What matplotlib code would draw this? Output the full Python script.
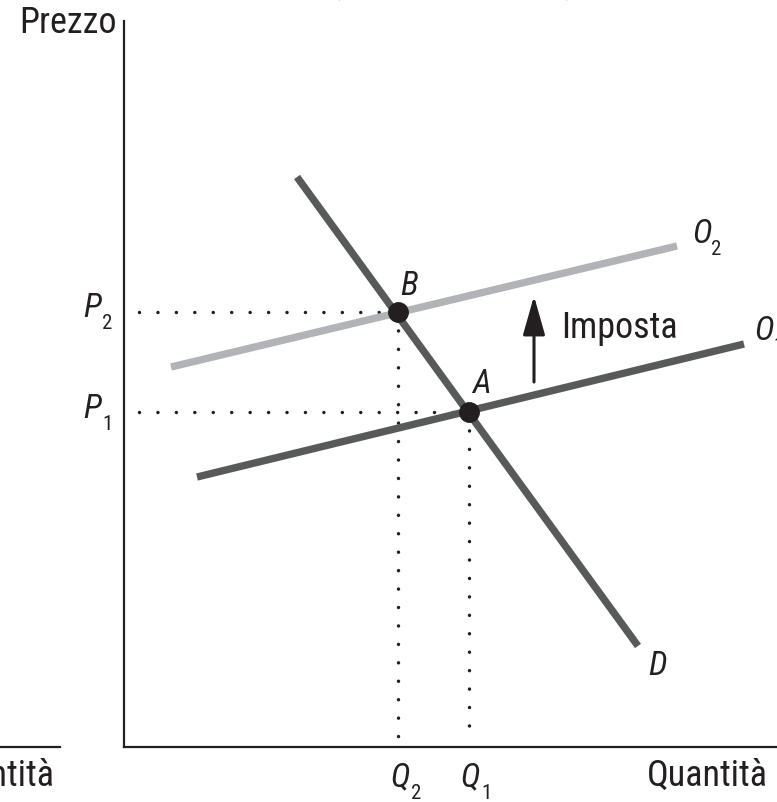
import os
import numpy as np
import matplotlib.pyplot as plt
import matplotlib.font_manager as fm
from matplotlib.lines import Line2D
from matplotlib.textpath import TextPath

# units: quantity / price measured from the axes corner
d_q = [17.3, 51.4]
d_p = [57.0, 10.1]
o1_q = [7.3, 62.0]
o1_p = [27.0, 40.3]
o2_q = [4.7, 55.3]
o2_p = [38.0, 50.1]

eq_names = ['A', 'B']
eq_q = [34.5, 27.4]
eq_p = [33.5, 43.5]

tax_q = 41.0
tax_p = [36.5, 45.1]

dark = '#58595b'
light = '#b1b3b6'
ink = '#231f20'


def narrow_font(italic):
    # the figure uses a condensed grotesque; take whatever narrow face is installed
    keys = ['LiberationSansNarrow', 'RobotoCondensed', 'OpenSansCondensed',
            'OpenSans_Condensed', 'DejaVuSansCondensed']
    for key in keys:
        for f in fm.fontManager.ttflist:
            base = os.path.basename(f.fname)
            if key not in base or 'Bold' in base or 'Light' in base:
                continue
            if ('Italic' in base or 'Oblique' in base) == italic:
                return fm.FontProperties(fname=f.fname)
    return fm.FontProperties(family='Liberation Sans',
                             style='italic' if italic else 'normal')


fp = narrow_font(False)
fpi = narrow_font(True)

# 'Imposta' is about 112 px wide in the reference
w = TextPath((0, 0), 'Imposta', size=26, prop=fp).get_extents().width * 100 / 72
word_size = 26 * min(1.0, 112 / w)

fig = plt.figure(figsize=(7.77, 8.03), dpi=100)
W, H = 777, 803
ax = fig.add_axes([124 / W, 55 / H, (W - 124) / W, 726 / H])
ax.set_xlim(0, 65.3)
ax.set_ylim(0, 72.6)
for s in ['top', 'right']:
    ax.spines[s].set_visible(False)
for s in ['left', 'bottom']:
    ax.spines[s].set_linewidth(1.6)
    ax.spines[s].set_color(ink)
ax.set_xticks([])
ax.set_yticks([])

# dotted guides
dots = dict(color=ink, lw=2.5, linestyle=(0, (0.01, 5.3)), dash_capstyle='round', zorder=1)
for q, p in zip(eq_q, eq_p):
    ax.plot([1.5, q], [p, p], **dots)
    ax.plot([q, q], [p, 0.5], **dots)

# curves
ax.plot(o2_q, o2_p, color=light, lw=5.3, solid_capstyle='butt', zorder=2)
ax.plot(o1_q, o1_p, color=dark, lw=5.3, solid_capstyle='butt', zorder=2)
ax.plot(d_q, d_p, color=dark, lw=5.3, solid_capstyle='butt', zorder=2)

ax.plot(eq_q, eq_p, 'o', color=ink, ms=14, zorder=3)

ax.annotate('', xy=(tax_q, tax_p[1]), xytext=(tax_q, tax_p[0]),
            arrowprops=dict(arrowstyle='-|>,head_length=1.2,head_width=0.34',
                            lw=2.2, color=ink, shrinkA=0, shrinkB=0, mutation_scale=20))

lab = dict(fontproperties=fpi, fontsize=24, color=ink, clip_on=False)
sub = dict(fontproperties=fp, fontsize=15, color=ink, clip_on=False)
ax.text(27.6, 45.3, 'B', **lab)
ax.text(34.8, 35.5, 'A', **lab)
ax.text(56.8, 50.5, 'O', **lab)
ax.text(58.7, 49.3, '2', **sub)
ax.text(63.0, 40.8, 'O', **lab)
ax.text(64.9, 39.6, '1', **sub)
ax.text(52.4, 7.3, 'D', **lab)
ax.text(-4.1, 43.1, 'P', **lab)
ax.text(-2.2, 41.9, '2', **sub)
ax.text(-4.1, 33.0, 'P', **lab)
ax.text(-2.2, 31.8, '1', **sub)
ax.text(26.6, -3.8, 'Q', **lab)
ax.text(28.7, -5.1, '2', **sub)
ax.text(33.6, -3.8, 'Q', **lab)
ax.text(35.7, -5.1, '1', **sub)

word = dict(fontproperties=fp, fontsize=word_size, color=ink)
ax.text(43.7, 41.0, 'Imposta', **word)
ax.text(64.4, -3.8, 'Quantità', ha='right', clip_on=False, **word)

fig.text(19 / W, 1 - 33 / H, 'Prezzo', **word)

# pieces of the neighbouring panel and the title cut by the crop
fig.add_artist(Line2D([0, 60 / W], [55 / H, 55 / H], color=ink, lw=1.6))
fig.text(55 / W, 1 - 786 / H, 'Quantità', ha='right', **word)
fig.text(330 / W, 1 + 8 / H, '(', **word)
fig.text(565 / W, 1 + 8 / H, ')', **word)

fig.savefig('out.png', dpi=100)
